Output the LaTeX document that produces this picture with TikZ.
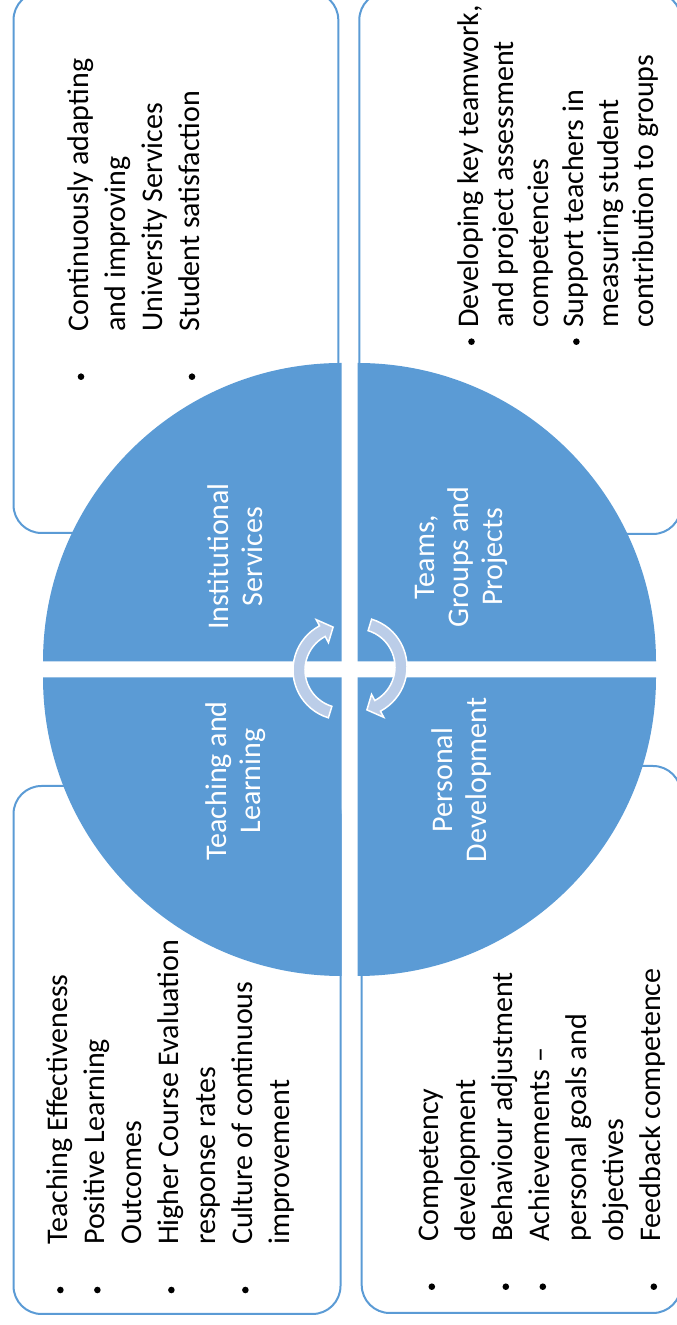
\documentclass[tikz,border=0pt]{standalone}
\usepackage{fontspec}
\setmainfont{Carlito}
\definecolor{accent}{RGB}{91,155,213}
\definecolor{arrowfill}{RGB}{187,205,232}
\begin{document}
\begin{tikzpicture}[x=1pt,y=1pt,
  outerbox/.style={draw=accent, line width=2, rounded corners=28},
  quad/.style={fill=accent},
  cyclearrow/.style={fill=arrowfill, draw=white, line width=1.5, line join=miter},
  txt/.style={rotate=90, anchor=base west, inner sep=0, font=\fontsize{30}{35}\selectfont},
  qlabel/.style={rotate=90, anchor=center, inner sep=0, align=center, text=white, font=\fontsize{30}{34}\selectfont},
  bulletdot/.style={fill=black}]
\useasboundingbox (0,0) rectangle (677,1325);
\clip (0,0) rectangle (677,1325);
% outer boxes
\draw[outerbox] (13.5,792) rectangle (338.3,1333);
\draw[outerbox] (359.3,791) rectangle (681,1333);
\draw[outerbox] (13.5,11) rectangle (340.5,539);
\draw[outerbox] (361.7,12) rectangle (681,559);
% gaps between quadrants
\fill[white] (341.5,350) rectangle (357.5,975);
\fill[white] (40,647.5) rectangle (660,663.5);
% quadrants
\fill[quad] (341.5,663.5) -- ++(-298.5,0) arc[start angle=180,end angle=90,radius=298.5] -- cycle;
\fill[quad] (357.5,663.5) -- ++(298.5,0) arc[start angle=0,end angle=90,radius=298.5] -- cycle;
\fill[quad] (341.5,647.5) -- ++(-298.5,0) arc[start angle=180,end angle=270,radius=298.5] -- cycle;
\fill[quad] (357.5,647.5) -- ++(298.5,0) arc[start angle=0,end angle=-90,radius=298.5] -- cycle;
% cycle arrows
\begin{scope}[shift={(343,655)}]
\draw[cyclearrow] (253:50) arc[start angle=253,end angle=118,radius=50] -- (118:57) -- (103:44) -- (118:31) -- (118:38) arc[start angle=118,end angle=253,radius=38] -- cycle;
\end{scope}
\begin{scope}[shift={(357,658)}]
\draw[cyclearrow] (73:50) arc[start angle=73,end angle=-62,radius=50] -- (-62:57) -- (-77:44) -- (-62:31) -- (-62:38) arc[start angle=-62,end angle=73,radius=38] -- cycle;
\end{scope}
% quadrant labels
\node[qlabel] (qis) at (235.3,768.5) {Institutional\\Services};
\node[qlabel] (qtg) at (461,768) {Teams,\\Groups and\\Projects};
\node[qlabel] (qtl) at (235.3,544) {Teaching and\\Learning};
\node[qlabel] (qpd) at (461,545) {Personal\\Development};
% top-left bullets
\fill[bulletdot] (81,948.3) circle (3.3);
\fill[bulletdot] (192,948.3) circle (3.3);
\node[txt] (is1) at (88,993.3) {Continuously adapting};
\node[txt] (is2) at (125,993.3) {and improving};
\node[txt] (is3) at (162,993.3) {University Services};
\node[txt] (is4) at (199,993.3) {Student satisfaction};
% top-right bullets
\fill[bulletdot] (471.5,983.3) circle (3.3);
\fill[bulletdot] (576.4,983.3) circle (3.3);
\node[txt] (tg1) at (478.5,997) {Developing key teamwork,};
\node[txt] (tg2) at (513.5,997) {and project assessment};
\node[txt] (tg3) at (548.5,997) {competencies};
\node[txt] (tg4) at (583.5,997) {Support teachers in};
\node[txt] (tg5) at (618.5,997) {measuring student};
\node[txt] (tg6) at (653.5,997) {contribution to groups};
% bottom-left bullets
\fill[bulletdot] (60.4,35) circle (3.3);
\fill[bulletdot] (97.4,35) circle (3.3);
\fill[bulletdot] (171.4,35) circle (3.3);
\fill[bulletdot] (245.4,35) circle (3.3);
\node[txt] (tl1) at (67.4,80) {Teaching Effectiveness};
\node[txt] (tl2) at (104.4,80) {Positive Learning};
\node[txt] (tl3) at (141.4,80) {Outcomes};
\node[txt] (tl4) at (178.4,80) {Higher Course Evaluation};
\node[txt] (tl5) at (215.4,80) {response rates};
\node[txt] (tl6) at (252.4,80) {Culture of continuous};
\node[txt] (tl7) at (289.4,80) {improvement};
% bottom-right bullets
\fill[bulletdot] (431.8,38.3) circle (3.3);
\fill[bulletdot] (505.8,38.3) circle (3.3);
\fill[bulletdot] (542.8,38.3) circle (3.3);
\fill[bulletdot] (653.8,38.3) circle (3.3);
\node[txt] (pd1) at (438.8,83.3) {Competency};
\node[txt] (pd2) at (475.8,83.3) {development};
\node[txt] (pd3) at (512.8,83.3) {Behaviour adjustment};
\node[txt] (pd4) at (549.8,83.3) {Achievements –};
\node[txt] (pd5) at (586.8,83.3) {personal goals and};
\node[txt] (pd6) at (623.8,83.3) {objectives};
\node[txt] (pd7) at (660.8,83.3) {Feedback competence};
\end{tikzpicture}
\end{document}
